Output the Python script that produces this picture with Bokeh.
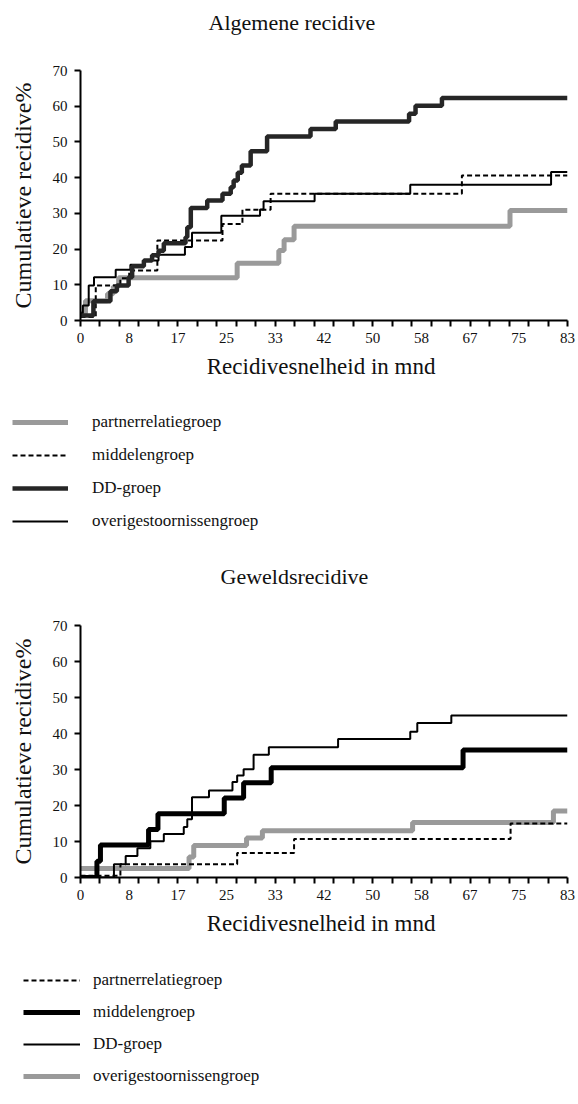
from bokeh.plotting import figure
from bokeh.models import Range1d, FixedTicker, CustomJSTickFormatter, Legend, LegendItem
from bokeh.layouts import column
from bokeh.embed import file_html
from bokeh.resources import INLINE

FONT = "Liberation Serif"

# ---- axes ----
x_end = 83
x_tick_labels = ["0", "8", "17", "25", "33", "42", "50", "58", "67", "75", "83"]
y_ticks = [0, 10, 20, 30, 40, 50, 60, 70]
x_title = "Recidivesnelheid  in mnd"
y_title = "Cumulatieve recidive%"
group_names = ["partnerrelatiegroep", "middelengroep", "DD-groep", "overigestoornissengroep"]

# ---- Algemene recidive (months, cumulative %) ----
alg_partner_t = [0, 0.85, 4.6, 5.6, 6.5, 26.7, 33.8, 34.7, 36.4, 73.2, 83]
alg_partner_v = [2.0, 5.5, 7.5, 9.5, 12.0, 16.0, 19.6, 22.6, 26.4, 30.8, 30.8]
alg_middel_t = [0, 2.6, 6.8, 8.3, 13.1, 24.2, 27.6, 32.4, 65.0, 83]
alg_middel_v = [1.0, 9.8, 11.8, 14.0, 22.4, 27.0, 31.0, 35.5, 40.6, 40.6]
alg_dd_t = [0, 2.2, 5.1, 6.2, 8.2, 8.8, 10.8, 12.2, 13.3, 14.2, 17.9, 18.2, 18.8, 21.6,
            24.2, 25.6, 26.1, 26.8, 27.5, 29.0, 31.8, 39.2, 43.5, 56.0, 57.1, 61.6, 83]
alg_dd_v = [1.4, 5.4, 8.2, 9.8, 12.1, 15.2, 16.8, 18.3, 19.5, 21.6, 23.3, 26.1, 31.5, 33.6,
            35.5, 37.3, 39.2, 41.4, 43.4, 47.4, 51.5, 53.6, 55.7, 57.9, 60.1, 62.3, 62.3]
alg_overig_t = [0, 0.4, 1.4, 2.3, 6.0, 8.5, 10.8, 13.3, 17.8, 19.0, 24.0, 30.6, 31.2,
                39.9, 56.2, 80.2, 83]
alg_overig_v = [2.0, 4.2, 9.8, 12.1, 14.2, 15.6, 16.8, 18.4, 20.6, 24.6, 29.3, 31.1, 33.4,
                35.5, 38.0, 41.6, 41.6]

# ---- Geweldsrecidive ----
gew_partner_t = [0, 6.8, 26.7, 36.4, 73.3, 83]
gew_partner_v = [0.5, 3.7, 6.8, 10.7, 15.0, 15.0]
gew_middel_t = [0, 2.8, 3.4, 11.6, 13.2, 24.5, 27.8, 32.5, 65.2, 83]
gew_middel_v = [0.0, 4.5, 9.0, 13.3, 17.7, 22.1, 26.3, 30.5, 35.4, 35.4]
gew_dd_t = [0, 5.7, 7.7, 9.7, 11.9, 14.2, 17.6, 18.2, 19.0, 21.9, 25.9, 26.7, 27.8, 29.5,
            32.1, 43.9, 56.2, 57.4, 63.2, 83]
gew_dd_v = [0.0, 3.7, 6.0, 8.1, 10.1, 12.1, 14.0, 16.2, 22.3, 24.2, 26.5, 28.3, 30.1, 34.1,
            36.2, 38.5, 40.5, 42.9, 45.0, 45.0]
gew_overig_t = [0, 18.5, 19.3, 28.3, 31.0, 56.6, 80.6, 83]
gew_overig_v = [2.5, 5.7, 8.9, 11.0, 13.0, 15.3, 18.5, 18.5]

GRAY = dict(line_color="#9a9a9a", line_width=5)
DASH = dict(line_color="#000000", line_width=2, line_dash="5 3")
THICK_DARK = dict(line_color="#262626", line_width=4.5)
THICK_BLACK = dict(line_color="#000000", line_width=5)
THIN = dict(line_color="#000000", line_width=2)
KEYS = ["partner", "middel", "dd", "overig"]


def blank_figure(height, **kw):
    p = figure(width=578, height=height, output_backend="svg", toolbar_location=None,
               x_axis_type=None, y_axis_type=None,
               x_range=Range1d(-2, -1), y_range=Range1d(-2, -1),
               min_border_left=0, min_border_right=0, min_border_top=0,
               min_border_bottom=0, **kw)
    p.frame_align = False
    p.grid.visible = False
    p.outline_line_color = None
    return p


def make_title(text, height, left, standoff):
    p = blank_figure(height, title=text)
    p.title.text_font = FONT
    p.title.text_font_size = "22px"
    p.title.text_font_style = "normal"
    p.title.text_color = "#111111"
    p.title.align = "left"
    p.title.offset = left
    p.title.standoff = standoff
    return p


def make_chart(height, top, bottom_border, series, draw_order):
    p = figure(width=578, height=height, output_backend="svg", toolbar_location=None,
               x_range=Range1d(0, x_end), y_range=Range1d(0, 70),
               min_border_left=80, min_border_right=11, min_border_top=top,
               min_border_bottom=bottom_border)
    p.outline_line_color = None
    p.grid.visible = False

    xt = [x_end * i / 10 for i in range(11)]
    xm = [x_end * k / 25 for k in range(26)]
    p.xaxis.ticker = FixedTicker(ticks=xt, minor_ticks=xm)
    p.xaxis.formatter = CustomJSTickFormatter(args=dict(labels=x_tick_labels),
                                              code="return labels[index];")
    p.yaxis.ticker = FixedTicker(ticks=y_ticks, minor_ticks=[])
    for ax in (p.xaxis[0], p.yaxis[0]):
        ax.axis_line_width = 2
        ax.axis_line_color = "black"
        ax.major_label_text_font = FONT
        ax.major_label_text_font_size = "15px"
        ax.major_label_text_color = "#111111"
        ax.axis_label_text_font = FONT
        ax.axis_label_text_font_style = "normal"
        ax.axis_label_text_color = "#111111"
        ax.major_tick_line_width = 2
        ax.minor_tick_line_width = 2
        ax.major_tick_in = 0
        ax.minor_tick_in = 0
    p.xaxis.axis_label_text_font_size = "23px"
    p.yaxis.axis_label_text_font_size = "24px"
    p.xaxis.major_tick_out = 0
    p.xaxis.minor_tick_out = 6
    p.yaxis.major_tick_out = 6
    p.xaxis.major_label_standoff = 6
    p.yaxis.major_label_standoff = 7
    p.xaxis.axis_label = x_title
    p.yaxis.axis_label = y_title
    p.xaxis.axis_label_standoff = 8
    p.yaxis.axis_label_standoff = 14

    for key in draw_order:
        t, v, style = series[key]
        p.step(t, v, mode="after", **style)
    return p


def make_legend(series, height, leg_x, leg_y, glyph_w, standoff, spacing):
    # legend-only panel: the series lie outside the visible range,
    # only their legend entries show
    p = blank_figure(height)
    items = []
    for name, k in zip(group_names, KEYS):
        t, v, style = series[k]
        r = p.step(t, v, mode="after", **style)
        items.append(LegendItem(label=name, renderers=[r]))
    leg = Legend(items=items, location=(leg_x, leg_y), padding=0, margin=0,
                 spacing=spacing, glyph_width=glyph_w, glyph_height=20, label_height=20,
                 label_standoff=standoff, border_line_alpha=0, background_fill_alpha=0,
                 label_text_font=FONT, label_text_font_size="17px",
                 label_text_color="#111111")
    p.add_layout(leg)
    return p


top_series = {
    "partner": (alg_partner_t, alg_partner_v, GRAY),
    "middel": (alg_middel_t, alg_middel_v, DASH),
    "dd": (alg_dd_t, alg_dd_v, THICK_DARK),
    "overig": (alg_overig_t, alg_overig_v, THIN),
}
bot_series = {
    "partner": (gew_partner_t, gew_partner_v, DASH),
    "middel": (gew_middel_t, gew_middel_v, THICK_BLACK),
    "dd": (gew_dd_t, gew_dd_v, THIN),
    "overig": (gew_overig_t, gew_overig_v, GRAY),
}

t1 = make_title("Algemene recidive", 46, 208, 14)
p1 = make_chart(349, 24, 75, top_series, ["partner", "middel", "overig", "dd"])
l1 = make_legend(top_series, 153, 12, 17, 56, 24, 13)
t2 = make_title("Geweldsrecidive", 56, 220, 26)
p2 = make_chart(356, 21, 83, bot_series, ["overig", "partner", "dd", "middel"])
l2 = make_legend(bot_series, 144, 23, 18, 57, 13, 12)

layout = column(t1, p1, l1, t2, p2, l2, spacing=0)
open("out.html", "w").write(file_html(layout, INLINE))
